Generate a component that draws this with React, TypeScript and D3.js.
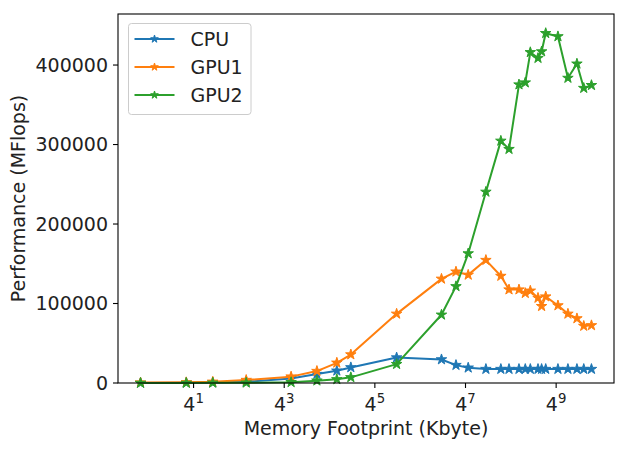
import React, { useEffect, useRef } from 'react';
import * as d3 from 'd3';

// memory footprint in Kbyte (x axis, log base 4)
const footprint = [0.79, 3.2, 7.2, 20, 79, 174, 320, 491, 1992, 7857, 12245, 17800, 30574, 48300, 62000, 84100, 102000, 119000, 150500, 168000, 190500, 277000, 376000, 495000, 610000, 772000];

// performance in MFlops
const cpu = [0, 300, 500, 1500, 5800, 11200, 15400, 19600, 32000, 29600, 22500, 19200, 17500, 17500, 17500, 17500, 17500, 17500, 17500, 17500, 17500, 17500, 17500, 17500, 17500, 17500];
const gpu1 = [500, 800, 1500, 3700, 8000, 15000, 25400, 35800, 87000, 131000, 140000, 136000, 154600, 134600, 117500, 117500, 113000, 116000, 107000, 96600, 108700, 97500, 87000, 81200, 71700, 72500];
const gpu2 = [0, 0, 200, 300, 900, 2900, 4600, 7100, 23700, 85800, 121600, 162900, 240400, 304600, 294200, 375400, 377900, 416000, 408700, 417000, 440000, 436000, 383700, 401600, 371000, 374600];

const seriesNames = ['CPU', 'GPU1', 'GPU2'];
const seriesColors = ['#1f77b4', '#ff7f0e', '#2ca02c'];
const xTickExponents = [1, 3, 5, 7, 9];
const yTicks = [0, 100000, 200000, 300000, 400000];

const App = () => {
    const svgRef = useRef<SVGSVGElement>(null);

    useEffect(() => {
        const width = 627;
        const height = 449;
        const margin = { top: 14, right: 13, bottom: 66, left: 118 };
        const innerWidth = width - margin.left - margin.right;
        const innerHeight = height - margin.top - margin.bottom;
        const font = '"DejaVu Sans", sans-serif';
        const fs = 19;

        const svg = d3.select(svgRef.current);
        svg.selectAll('*').remove();
        svg.attr('width', width).attr('height', height);

        const g = svg.append('g').attr('transform', `translate(${margin.left},${margin.top})`);

        // matplotlib-like 5% margin in log space
        const l4 = (v: number) => Math.log(v) / Math.log(4);
        const lo = l4(d3.min(footprint)!);
        const hi = l4(d3.max(footprint)!);
        const pad = (hi - lo) * 0.05;
        const xScale = d3.scaleLog().base(4)
            .domain([Math.pow(4, lo - pad), Math.pow(4, hi + pad)])
            .range([0, innerWidth]);

        const ymax = d3.max([...cpu, ...gpu1, ...gpu2])!;
        const yScale = d3.scaleLinear()
            .domain([0, ymax * 1.055])
            .range([innerHeight, 0]);

        // series
        const allSeries = [cpu, gpu1, gpu2];
        const line = d3.line<number>()
            .x((d, i) => xScale(footprint[i]))
            .y(d => yScale(d));
        const star = d3.symbol().type(d3.symbolStar).size(34);

        const plot = g.append('g');
        allSeries.forEach((vals, si) => {
            plot.append('path')
                .attr('d', line(vals))
                .attr('fill', 'none')
                .attr('stroke', seriesColors[si])
                .attr('stroke-width', 2)
                .attr('stroke-linejoin', 'round');
            plot.selectAll(null)
                .data(vals)
                .enter()
                .append('path')
                .attr('d', star)
                .attr('transform', (d, i) => `translate(${xScale(footprint[i])},${yScale(d)})`)
                .attr('fill', seriesColors[si])
                .attr('stroke', seriesColors[si])
                .attr('stroke-width', 1);
        });

        // frame
        g.append('rect')
            .attr('width', innerWidth)
            .attr('height', innerHeight)
            .attr('fill', 'none')
            .attr('stroke', 'black')
            .attr('stroke-width', 1.1);

        // x ticks
        const xt = g.append('g').attr('transform', `translate(0,${innerHeight})`);
        xTickExponents.forEach(e => {
            const x = xScale(Math.pow(4, e));
            xt.append('line').attr('x1', x).attr('x2', x).attr('y1', 0).attr('y2', 5)
                .attr('stroke', 'black').attr('stroke-width', 1.1);
            const t = xt.append('text')
                .attr('x', x)
                .attr('y', 28)
                .attr('text-anchor', 'middle')
                .style('font-family', font)
                .style('font-size', `${fs}px`)
                .attr('fill', '#222');
            t.append('tspan').text('4');
            t.append('tspan').attr('dy', -8).style('font-size', `${fs * 0.7}px`).text(String(e));
        });

        // y ticks
        const yt = g.append('g');
        yTicks.forEach(v => {
            const y = yScale(v);
            yt.append('line').attr('x1', -5).attr('x2', 0).attr('y1', y).attr('y2', y)
                .attr('stroke', 'black').attr('stroke-width', 1.1);
            yt.append('text')
                .attr('x', -10)
                .attr('y', y)
                .attr('dy', '0.36em')
                .attr('text-anchor', 'end')
                .style('font-family', font)
                .style('font-size', `${fs}px`)
                .attr('fill', '#222')
                .text(String(v));
        });

        // axis labels
        svg.append('text')
            .attr('x', margin.left + innerWidth / 2)
            .attr('y', 435)
            .attr('text-anchor', 'middle')
            .style('font-family', font)
            .style('font-size', `${fs}px`)
            .attr('fill', '#222')
            .text('Memory Footprint (Kbyte)');

        svg.append('text')
            .attr('transform', `translate(25,${margin.top + innerHeight / 2}) rotate(-90)`)
            .attr('text-anchor', 'middle')
            .style('font-family', font)
            .style('font-size', `${fs}px`)
            .attr('fill', '#222')
            .text('Performance (MFlops)');

        // legend
        const legend = svg.append('g').attr('transform', 'translate(128.5,23.5)');
        legend.append('rect')
            .attr('width', 122.5)
            .attr('height', 91)
            .attr('rx', 3)
            .attr('fill', 'white')
            .attr('fill-opacity', 0.8)
            .attr('stroke', '#cccccc')
            .attr('stroke-width', 1);
        const smallStar = d3.symbol().type(d3.symbolStar).size(18);
        seriesNames.forEach((name, i) => {
            const y = 15.5 + i * 28;
            legend.append('line')
                .attr('x1', 6).attr('x2', 46).attr('y1', y).attr('y2', y)
                .attr('stroke', seriesColors[i]).attr('stroke-width', 2);
            legend.append('path')
                .attr('d', smallStar)
                .attr('transform', `translate(26,${y})`)
                .attr('fill', seriesColors[i])
                .attr('stroke', seriesColors[i])
                .attr('stroke-width', 1);
            legend.append('text')
                .attr('x', 62)
                .attr('y', y)
                .attr('dy', '0.36em')
                .style('font-family', font)
                .style('font-size', `${fs}px`)
                .attr('fill', '#222')
                .text(name);
        });
    }, []);

    return (
        <svg ref={svgRef} style={{ position: 'absolute', left: 0, top: 0, background: 'white' }}></svg>
    );
};

export default App;
